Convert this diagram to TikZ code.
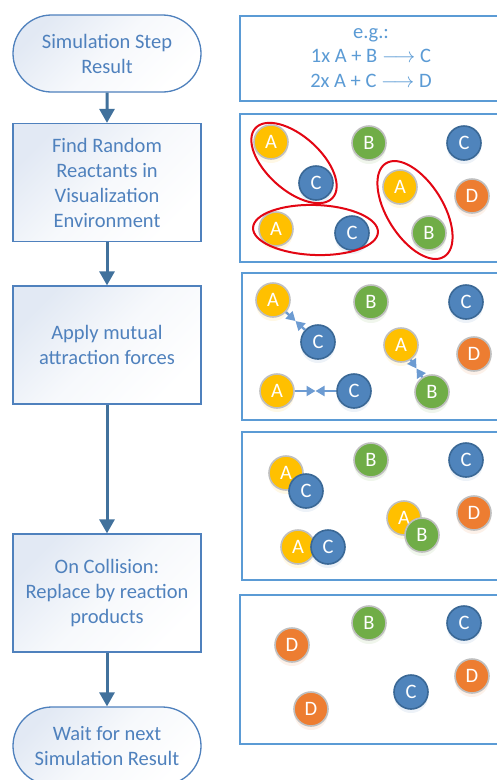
\documentclass[tikz,border=0pt]{standalone}
\usepackage{fontspec}
\setmainfont{Carlito}
\usetikzlibrary{shapes.misc,arrows.meta,calc}
\definecolor{flowtext}{HTML}{4F81BD}
\definecolor{flowborder}{HTML}{4F81BD}
\definecolor{flowshade}{HTML}{E2E9F4}
\definecolor{arrowblue}{HTML}{41719C}
\definecolor{panelblue}{HTML}{5B9BD5}
\definecolor{cA}{HTML}{FFC000}
\definecolor{cB}{HTML}{70AD47}
\definecolor{cC}{HTML}{4F84BC}
\definecolor{cD}{HTML}{ED7D31}
\definecolor{ring}{HTML}{BFBFBF}
\definecolor{cCring}{HTML}{3A6896}
\definecolor{loopred}{HTML}{E30613}
\definecolor{forceblue}{HTML}{6C9BD2}
\tikzset{
  flowbox/.style={draw=flowborder, line width=1.3pt, top color=flowshade, bottom color=white, middle color=white!70!flowshade, shading angle=45,
    minimum width=188pt, minimum height=118pt, align=center, text=flowtext, font=\fontsize{20.5}{25}\selectfont, inner sep=0pt},
  terminal/.style={flowbox, rounded rectangle, minimum height=77pt},
  flowarrow/.style={draw=arrowblue, line width=3pt, -{Triangle[width=15pt,length=14pt]}},
  panel/.style={draw=panelblue, line width=2.2pt, fill=white, anchor=north west, inner sep=0pt},
  ball/.style={circle, minimum size=34pt, inner sep=0pt, line width=1.6pt, text=white, font=\fontsize{20.5}{20.5}\selectfont,
    preaction={fill=#1, opacity=0.10, transform canvas={yshift=-4pt}}},
  ballA/.style={ball=cA, fill=cA, draw=ring},
  ballB/.style={ball=cB, fill=cB, draw=ring},
  ballC/.style={ball=cC, fill=cC, draw=cCring},
  ballD/.style={ball=cD, fill=cD, draw=ring},
  redloop/.style={draw=loopred, line width=2pt},
  force/.style={draw=forceblue, line width=2.4pt, -{Triangle[width=10pt,length=9pt]}},
}
\begin{document}
\begin{tikzpicture}[x=1pt,y=-1pt]
\useasboundingbox (0,0) rectangle (497,780);
\fill[white] (0,0) rectangle (497,780);

% flow chart
\node[terminal] (t1) at (107,53.5) {Simulation Step\\Result};
\node[flowbox] (f2) at (107,182.5) {Find Random\\Reactants in\\Visualization\\Environment};
\node[flowbox] (f3) at (107,345) {Apply mutual\\attraction forces};
\node[flowbox] (f4) at (107,593) {On Collision:\\Replace by reaction\\products};
\node[terminal, minimum height=78pt] (t5) at (107,746) {Wait for next\\Simulation Result};
\draw[flowarrow] (t1) -- (f2);
\draw[flowarrow] (f2) -- (f3);
\draw[flowarrow] (f3) -- (f4);
\draw[flowarrow] (f4) -- (t5);

% panels
\node[panel, minimum width=272pt, minimum height=85pt] (p1) at (239,15) {};
\node[text=panelblue, align=center, font=\fontsize{20.5}{24.5}\selectfont] (eg) at (371,58)
  {e.g.:\\1x A + B \ensuremath{\longrightarrow} C\\2x A + C \ensuremath{\longrightarrow} D};
\node[panel, minimum width=272pt, minimum height=148pt] (p2) at (239,113) {};
\node[panel, minimum width=270pt, minimum height=147pt] (p3) at (241,272) {};
\node[panel, minimum width=270pt, minimum height=148pt] (p4) at (241,431) {};
\node[panel, minimum width=272pt, minimum height=149pt] (p5) at (239,594) {};

% panel 2: random reactants
\node[ballA] (a21) at (271,142) {A};
\node[ballB] (b21) at (369,143) {B};
\node[ballC] (c21) at (464,143) {C};
\node[ballC] (c22) at (316,183) {C};
\node[ballA] (a22) at (400,187) {A};
\node[ballD] (d21) at (472,196) {D};
\node[ballA] (a23) at (276,229) {A};
\node[ballC] (c23) at (352,233) {C};
\node[ballB] (b22) at (429,233) {B};
\draw[redloop, rotate around={-42:(294,163)}] (294,163) ellipse [x radius=52, y radius=27];
\draw[redloop, rotate around={-2:(315.5,230)}] (315.5,230) ellipse [x radius=62.5, y radius=25];
\draw[redloop, rotate around={-58:(415,210)}] (415,210) ellipse [x radius=55, y radius=28];

% panel 3: attraction forces
\node[ballA] (a31) at (273,300) {A};
\node[ballB] (b31) at (371,302) {B};
\node[ballC] (c31) at (466,302) {C};
\node[ballC] (c32) at (318,342) {C};
\node[ballA] (a32) at (401,345) {A};
\node[ballD] (d31) at (474,354) {D};
\node[ballA] (a33) at (277,391) {A};
\node[ballC] (c33) at (354,391) {C};
\node[ballB] (b32) at (432,392) {B};
\draw[force] (a31) -- ($(a31)!0.5!(c32)$);
\draw[force] (c32) -- ($(a31)!0.5!(c32)$);
\draw[force] (a32) -- ($(a32)!0.5!(b32)$);
\draw[force] (b32) -- ($(a32)!0.5!(b32)$);
\draw[force] (a33) -- ($(a33)!0.5!(c33)$);
\draw[force] (c33) -- ($(a33)!0.5!(c33)$);

% panel 4: collisions
\node[ballA] (a41) at (286,473) {A};
\node[ballC] (c41) at (306,491) {C};
\node[ballB] (b41) at (371,460) {B};
\node[ballC] (c42) at (466,460) {C};
\node[ballA] (a42) at (404,518) {A};
\node[ballB] (b42) at (422,535) {B};
\node[ballD] (d41) at (474,513) {D};
\node[ballA] (a43) at (298,547) {A};
\node[ballC] (c43) at (328,547) {C};

% panel 5: products
\node[ballD] (d51) at (292,645) {D};
\node[ballB] (b51) at (369,623) {B};
\node[ballC] (c51) at (464,623) {C};
\node[ballD] (d52) at (472,676) {D};
\node[ballC] (c52) at (411,692) {C};
\node[ballD] (d53) at (311,709) {D};
\end{tikzpicture}
\end{document}
